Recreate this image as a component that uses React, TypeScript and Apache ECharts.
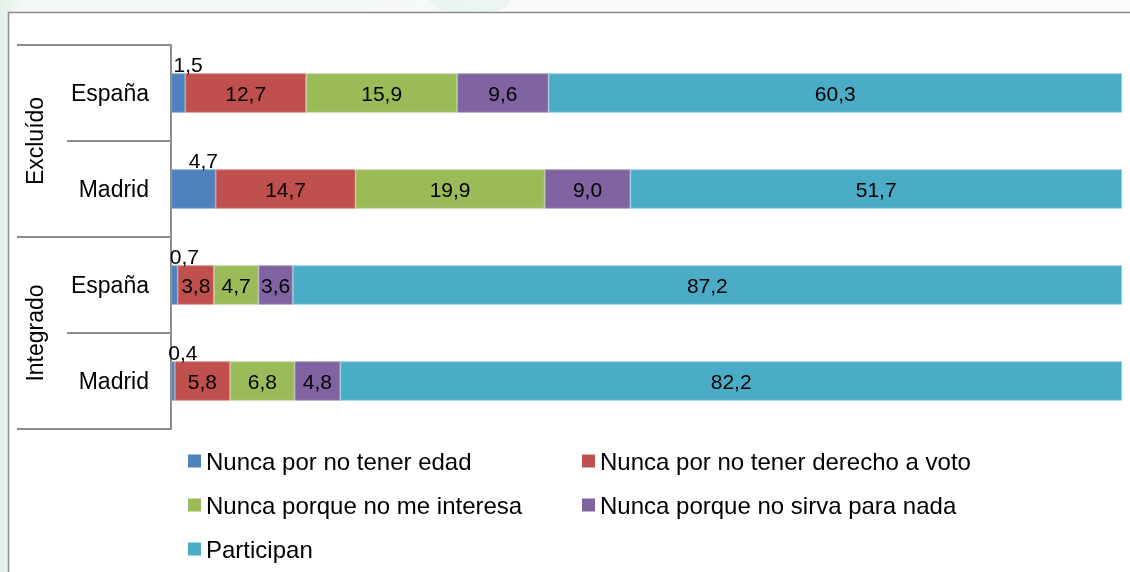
import React, { useEffect, useRef } from "react";
import * as echarts from "echarts";

// Rows (top to bottom) and their groups
const categories = ["España", "Madrid", "España", "Madrid"];
const groups = ["Excluído", "Integrado"];

// Percentages per row
const seriesNames = [
  "Nunca por no tener edad",
  "Nunca por no tener derecho a voto",
  "Nunca porque no me interesa",
  "Nunca porque no sirva para nada",
  "Participan",
];
const noEdad = [1.5, 4.7, 0.7, 0.4];
const noDerecho = [12.7, 14.7, 3.8, 5.8];
const noInteresa = [15.9, 19.9, 4.7, 6.8];
const noSirve = [9.6, 9.0, 3.6, 4.8];
const participan = [60.3, 51.7, 87.2, 82.2];

const seriesValues = [noEdad, noDerecho, noInteresa, noSirve, participan];
const colors = ["#4F81BD", "#C0504D", "#9BBB59", "#8064A2", "#4BACC6"];
const borders = ["#86a7d2", "#d88a88", "#c2d69b", "#ab99c4", "#93cddd"];

const FONT = "'Liberation Sans', Arial, sans-serif";
const GRAY = "#8c8c8c";

const fmt = (v: number) => v.toFixed(1).replace(".", ",");

export default function App() {
  const ref = useRef<HTMLDivElement>(null);

  useEffect(() => {
    if (!ref.current) return;
    const chart = echarts.init(ref.current, undefined, { renderer: "svg" });

    const series = seriesValues.map((vals, i) => ({
      name: seriesNames[i],
      type: "bar" as const,
      stack: "total",
      data: vals,
      barWidth: "41%",
      itemStyle: { color: colors[i], borderColor: borders[i], borderWidth: 0.8 },
      label: {
        show: true,
        position: i === 0 ? "top" : "inside",
        distance: 0,
        offset: i === 0 ? [10, 2] : [0, 0],
        color: "#000",
        fontFamily: FONT,
        fontSize: 21,
        formatter: (p: any) => fmt(p.value),
      },
    }));

    const legendCommon = {
      orient: "vertical" as const,
      top: 449,
      padding: 0,
      itemWidth: 13,
      itemHeight: 13,
      itemGap: 20,
      icon: "rect",
      itemStyle: { borderWidth: 0 },
      textStyle: { color: "#000", fontFamily: FONT, fontSize: 24, lineHeight: 23 },
    };

    chart.setOption({
      animation: false,
      color: colors,
      graphic: [
        {
          type: "rect",
          z: -20,
          silent: true,
          shape: { x: 0, y: 0, width: 1130, height: 572 },
          style: {
            fill: new echarts.graphic.LinearGradient(0, 0, 1, 0, [
              { offset: 0, color: "#e4efe8" },
              { offset: 0.02, color: "#f4f8f5" },
              { offset: 1, color: "#fafcfb" },
            ]),
          },
        },
        {
          type: "ellipse",
          z: -19,
          silent: true,
          shape: { cx: 470, cy: 0, rx: 40, ry: 14 },
          style: { fill: "rgba(215,234,223,0.35)" },
        },
        {
          type: "rect",
          z: -10,
          silent: true,
          shape: { x: 8.5, y: 12.5, width: 1140, height: 600 },
          style: { fill: "#ffffff", stroke: GRAY, lineWidth: 1.5 },
        },
      ],
      grid: {
        left: 171,
        right: 8,
        top: 45,
        height: 384,
        outerBoundsMode: "none",
      },
      xAxis: { type: "value", min: 0, max: 100, show: false },
      yAxis: [
        {
          type: "category",
          data: categories,
          inverse: true,
          axisLine: { show: true, lineStyle: { color: GRAY, width: 2 } },
          axisTick: { show: true, length: 104, lineStyle: { color: GRAY, width: 2 } },
          axisLabel: { color: "#000", fontFamily: FONT, fontSize: 23, margin: 22 },
        },
        {
          type: "category",
          data: groups,
          inverse: true,
          position: "left",
          axisLine: { show: false },
          axisTick: { show: true, length: 154, lineStyle: { color: GRAY, width: 2 } },
          axisLabel: {
            color: "#000",
            fontFamily: FONT,
            fontSize: 23,
            rotate: 90,
            margin: 125,
          },
        },
      ],
      legend: [
        { ...legendCommon, left: 188, data: [seriesNames[0], seriesNames[2], seriesNames[4]] },
        { ...legendCommon, left: 582, data: [seriesNames[1], seriesNames[3]] },
      ],
      series,
    });

    return () => chart.dispose();
  }, []);

  return (
    <div
      ref={ref}
      style={{ position: "fixed", left: 0, top: 0, width: 1130, height: 572 }}
    />
  );
}
